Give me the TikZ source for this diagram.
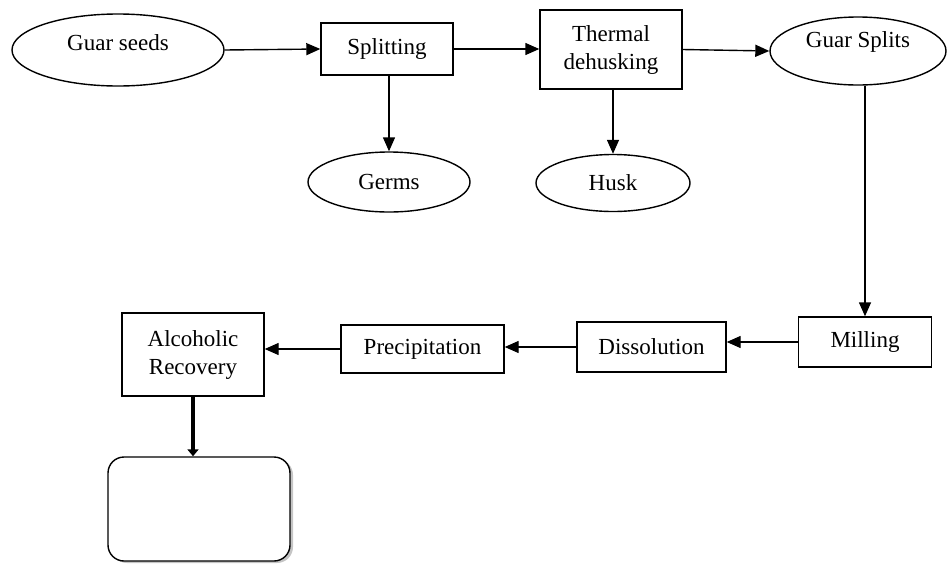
\documentclass[tikz,border=0pt]{standalone}
\usepackage{fontspec}
\setmainfont{Liberation Serif}
\usetikzlibrary{shapes.geometric,arrows.meta,shadows}
\begin{document}
\begin{tikzpicture}[x=1pt,y=-1pt,
  every node/.style={font=\fontsize{23}{28}\selectfont, inner sep=0pt, line width=1.4pt},
  oval/.style={draw, ellipse},
  stepbox/.style={draw, rectangle, align=center},
  flow/.style={line width=1.4pt, -{Triangle[length=14pt,width=12pt]}},
  bigflow/.style={line width=4.5pt, -{Triangle[length=7pt,width=11pt]}}]
\useasboundingbox (0,0) rectangle (947,563);
\node[oval, minimum width=212, minimum height=72, label={[yshift=7pt,font=\fontsize{23}{28}\selectfont]center:Guar seeds}] (gs) at (118,50) {};
\node[stepbox, minimum width=132, minimum height=52] (sp) at (387,49) {Splitting};
\node[stepbox, minimum width=142, minimum height=79] (th) at (611,49.5) {Thermal\\dehusking};
\node[oval, minimum width=176, minimum height=68, label={[yshift=9pt,font=\fontsize{23}{28}\selectfont]center:Guar Splits}] (gsp) at (858,51) {};
\node[oval, minimum width=162, minimum height=60] (germs) at (389,182) {Germs};
\node[oval, minimum width=154, minimum height=57] (husk) at (613,183) {Husk};
\node[stepbox, minimum width=133, minimum height=50] (mill) at (865,342) {Milling};
\node[stepbox, minimum width=149, minimum height=50] (dis) at (651.5,347) {Dissolution};
\node[stepbox, minimum width=163, minimum height=48] (prec) at (422.5,349) {Precipitation};
\node[stepbox, minimum width=142, minimum height=83] (alc) at (193,354.5) {Alcoholic\\Recovery};
\node[draw, rounded corners=16pt, minimum width=182, minimum height=104,
  drop shadow={shadow xshift=3pt, shadow yshift=-2pt, fill=black!45}, fill=white] (res) at (199,509) {};
\draw[flow] (gs.east) -- (sp.west);
\draw[flow] (sp.east) -- (th.west |- sp.east);
\draw[flow] (th.east) -- (gsp.west);
\draw[flow] (sp.south -| germs.north) -- (germs.north);
\draw[flow] (th.south -| husk.north) -- (husk.north);
\draw[flow] (gsp.south -| mill.north) -- (mill.north);
\draw[flow] (mill.west) -- (dis.east |- mill.west);
\draw[flow] (dis.west) -- (prec.east |- dis.west);
\draw[flow] (prec.west) -- (alc.east |- prec.west);
\draw[bigflow] (alc.south) -- (res.north -| alc.south);
\end{tikzpicture}
\end{document}
